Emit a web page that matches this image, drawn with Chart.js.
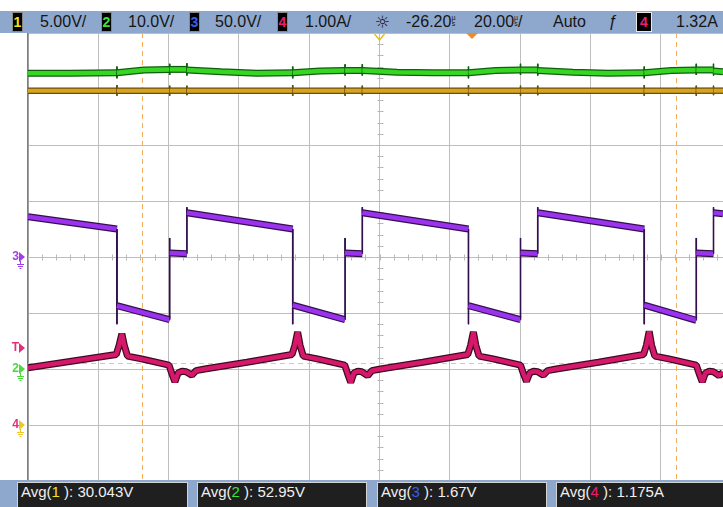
<!DOCTYPE html>
<html>
<head>
<meta charset="utf-8">
<script src="https://cdn.jsdelivr.net/npm/chart.js@4"></script>
<style>
  body { margin: 0; background: #fff; }
  #wrap { position: relative; width: 723px; height: 507px; overflow: hidden; font-family: "Liberation Sans", Arial, sans-serif; }
  #scope { position: absolute; left: 0; top: 0; }
  .bar { position: absolute; left: 0; width: 723px; background: #8ea7cc; }
  #hdr { top: 11px; height: 22px; }
  #ftr { top: 480px; height: 27px; }
  #hdr > span { position: absolute; top: 0; line-height: 22px; font-size: 16px; color: #151515; white-space: nowrap; }
  #hdr > span.ch { top: 1px; height: 18px; line-height: 18px; width: 9px; text-align: center; background: #000; border: 1px solid #8a8a8a; font-size: 14px; font-weight: bold; }
  .us { display: inline-block; font-size: 7px; line-height: 6px; text-align: center; vertical-align: 1px; }
  .box { position: absolute; top: 2px; height: 27px; background: #1f1f1f; border: 1px solid #d4d4d4; color: #f0f0f0; font-size: 15px; line-height: 17px; padding-left: 3px; box-sizing: border-box; white-space: nowrap; }
</style>
</head>
<body>
<div id="wrap">
  <canvas id="scope" width="723" height="507"></canvas>

  <div id="hdr" class="bar">
    <span class="ch" style="left:12px;color:#f2e41c">1</span>
    <span style="left:40px">5.00V/</span>
    <span class="ch" style="left:101px;color:#3ee03a">2</span>
    <span style="left:128px">10.0V/</span>
    <span class="ch" style="left:189px;color:#3a5cf0">3</span>
    <span style="left:215px">50.0V/</span>
    <span class="ch" style="left:277px;color:#e8206e">4</span>
    <span style="left:305px">1.00A/</span>
    <span style="left:375px;font-family:'DejaVu Sans';font-size:17px">☼</span>
    <span style="left:406px">-26.20<span class="us">µ<br>s</span></span>
    <span style="left:474px">20.00<span class="us">µ<br>s</span>/</span>
    <span style="left:553px">Auto</span>
    <span style="left:608px;font-style:italic">ƒ</span>
    <span class="ch" style="left:636px;width:14px;border-color:#e8e8e8;color:#e8206e">4</span>
    <span style="left:676px">1.32A</span>
  </div>

  <div id="ftr" class="bar">
    <div class="box" style="left:17px;width:171px">Avg(<span style="color:#f2e41c">1</span> ): 30.043V</div>
    <div class="box" style="left:197px;width:170px">Avg(<span style="color:#3ee03a">2</span> ): 52.95V</div>
    <div class="box" style="left:377px;width:170px">Avg(<span style="color:#3a5cf0">3</span> ): 1.67V</div>
    <div class="box" style="left:556px;width:170px">Avg(<span style="color:#e8206e">4</span> ): 1.175A</div>
  </div>
</div>

<script>
// time in µs from the left edge of the screen, values in channel units
const timeSpan = 197.7;      // visible width: 9.9 divisions of 20 µs
const timePerDiv = 20;

// channel scale (units per division) and ground level (divisions from centre)
const ch1Scale = 5,  ch1Ground = -3;
const ch2Scale = 10, ch2Ground = -2;
const ch3Scale = 50, ch3Ground = 0;
const ch4Scale = 1,  ch4Ground = -3;

// ch1 (V) — flat input voltage with switching spikes
const ch1Trace = [
  [0, 29.85], [25.3, 29.85], [25.3, 30.35], [25.3, 29.4], [25.3, 29.85],
  [40.3, 29.85], [40.3, 30.3], [40.3, 29.4], [40.3, 29.85],
  [45.2, 29.85], [45.2, 30.3], [45.2, 29.45], [45.2, 29.85],
  [75.3, 29.85], [75.3, 30.35], [75.3, 29.4], [75.3, 29.85],
  [90.2, 29.85], [90.2, 30.3], [90.2, 29.4], [90.2, 29.85],
  [95.1, 29.85], [95.1, 30.3], [95.1, 29.45], [95.1, 29.85],
  [125.3, 29.85], [125.3, 30.35], [125.3, 29.4], [125.3, 29.85],
  [140.1, 29.85], [140.1, 30.3], [140.1, 29.4], [140.1, 29.85],
  [145.0, 29.85], [145.0, 30.3], [145.0, 29.45], [145.0, 29.85],
  [175.3, 29.85], [175.3, 30.35], [175.3, 29.4], [175.3, 29.85],
  [190.1, 29.85], [190.1, 30.3], [190.1, 29.4], [190.1, 29.85],
  [195.0, 29.85], [195.0, 30.3], [195.0, 29.45], [195.0, 29.85],
  [197.7, 29.85]
];

// ch2 (V) — output voltage with a small hump each period
const ch2Trace = [
  [0, 52.8], [12, 52.8],
  [25.3, 52.9], [25.3, 54.0], [25.3, 51.9], [25.3, 52.9],
  [33, 53.4], [40.3, 53.5], [40.3, 54.5], [40.3, 52.5], [40.3, 53.5],
  [45.2, 53.5], [45.2, 54.6], [45.2, 52.4], [45.2, 53.4],
  [55, 53.1], [65, 52.8],
  [75.3, 52.9], [75.3, 54.0], [75.3, 51.9], [75.3, 52.9],
  [83, 53.2], [90.2, 53.3], [90.2, 54.4], [90.2, 52.4], [90.2, 53.3],
  [95.1, 53.3], [95.1, 54.4], [95.1, 52.4], [95.1, 53.3],
  [105, 53.0], [115, 52.9],
  [125.3, 52.9], [125.3, 54.0], [125.3, 51.9], [125.3, 52.9],
  [133, 53.3], [140.1, 53.4], [140.1, 54.5], [140.1, 52.5], [140.1, 53.4],
  [145.0, 53.4], [145.0, 54.5], [145.0, 52.4], [145.0, 53.3],
  [155, 53.0], [165, 52.8],
  [175.3, 52.9], [175.3, 54.0], [175.3, 51.9], [175.3, 52.9],
  [183, 53.3], [190.1, 53.4], [190.1, 54.5], [190.1, 52.5], [190.1, 53.4],
  [195.0, 53.4], [195.0, 54.5], [195.0, 52.4], [195.0, 53.2],
  [197.7, 53.1]
];

// ch3 (V) — switch node, sloped tops with an intermediate step
const ch3Trace = [
  [0, 36], [25.3, 25], [25.3, -60], [25.3, -43.5], [40.3, -56], [40.3, 17], [40.3, 3.5],
  [45.2, 3], [45.2, 44.5], [45.2, 39.5], [75.3, 25], [75.3, -60], [75.3, -43], [90.2, -56],
  [90.2, 17], [90.2, 3.5], [95.1, 3], [95.1, 44.5], [95.1, 39.5], [125.3, 25], [125.3, -60],
  [125.3, -43.5], [140.1, -56], [140.1, 17], [140.1, 3.5], [145.0, 3], [145.0, 44.5],
  [145.0, 39.5], [175.3, 25], [175.3, -60], [175.3, -43], [190.1, -56.5], [190.1, 17],
  [190.1, 3.5], [195.0, 3], [195.0, 44.5], [195.0, 39.5], [197.7, 38.5]
];

// ch4 (A) — inductor current with spikes at the edges
const ch4Trace = [
  [0, 1.02],
  [25.1, 1.26], [25.9, 1.42], [26.7, 1.63], [27.4, 1.42], [28.3, 1.23], [32.3, 1.18], [40.1, 1.07],
  [40.9, 0.92], [41.8, 0.77], [42.7, 0.93], [43.8, 0.96], [45.0, 0.95], [46.6, 0.89], [47.8, 0.97],
  [50.3, 1.00], [62.3, 1.12],
  [75.1, 1.26], [75.9, 1.42], [76.7, 1.66], [77.4, 1.42], [78.3, 1.23], [82.3, 1.18], [90.1, 1.07],
  [90.9, 0.92], [91.8, 0.76], [92.7, 0.93], [93.8, 0.96], [95.0, 0.95], [96.6, 0.88], [97.8, 0.97],
  [100.3, 1.00], [112.3, 1.12],
  [125.1, 1.26], [125.9, 1.42], [126.7, 1.66], [127.4, 1.42], [128.3, 1.23], [132.3, 1.18], [140.1, 1.07],
  [140.9, 0.92], [141.8, 0.78], [142.7, 0.93], [143.8, 0.96], [145.0, 0.95], [146.6, 0.89], [147.8, 0.97],
  [150.3, 1.00], [162.3, 1.12],
  [175.1, 1.26], [175.9, 1.42], [176.7, 1.67], [177.4, 1.42], [178.3, 1.23], [182.3, 1.18], [190.1, 1.07],
  [190.9, 0.92], [191.8, 0.77], [192.7, 0.93], [193.8, 0.96], [195.0, 0.95], [196.6, 0.88], [197.7, 0.94]
];

// cursors and markers
const cursorTimes = [32.4, 184.4];
const cursorLevel = -1.89;      // divisions
const triggerTime = 126.3;
const delayTime = 100;
const triggerLevel = -1.68;     // divisions

function trace(points, perDiv, ground, core, edge, width, order) {
  const data = points.map(([t, v]) => ({ x: t, y: v / perDiv + ground }));
  const vertical = c => c.p0.parsed.x === c.p1.parsed.x;
  const common = { data, pointRadius: 0, tension: 0, fill: false, borderJoinStyle: 'bevel' };
  return [
    Object.assign({}, common, {
      borderColor: edge, borderWidth: width + 2.5, order: order + 1,
      segment: { borderWidth: c => vertical(c) ? 1.6 : undefined }
    }),
    Object.assign({}, common, {
      borderColor: core, borderWidth: width, order: order,
      segment: {
        borderWidth: c => vertical(c) ? 1 : undefined,
        borderColor: c => vertical(c) ? edge : undefined
      }
    })
  ];
}

function line(ctx, x1, y1, x2, y2) {
  ctx.beginPath(); ctx.moveTo(x1, y1); ctx.lineTo(x2, y2); ctx.stroke();
}

function marker(ctx, label, py, color, arrowColor, ground) {
  ctx.fillStyle = color;
  ctx.font = 'bold 12px "Liberation Sans"';
  ctx.textAlign = 'right';
  ctx.textBaseline = 'middle';
  ctx.fillText(label, 19, py);
  ctx.fillStyle = arrowColor;
  ctx.beginPath(); ctx.moveTo(19, py - 5); ctx.lineTo(25, py); ctx.lineTo(19, py + 5); ctx.closePath(); ctx.fill();
  if (ground) {
    ctx.strokeStyle = arrowColor; ctx.lineWidth = 1;
    line(ctx, 20.5, py + 4, 20.5, py + 7);
    line(ctx, 17, py + 7.5, 24, py + 7.5);
    line(ctx, 18, py + 9.5, 23, py + 9.5);
    line(ctx, 19.5, py + 11.5, 21.5, py + 11.5);
  }
}

const overlay = {
  id: 'overlay',
  beforeDatasetsDraw(chart) {
    const { ctx, scales: { x, y }, chartArea: a } = chart;
    ctx.save();
    // minor ticks on the centre axes
    ctx.strokeStyle = '#b8b8b8'; ctx.lineWidth = 1;
    const cy = Math.round(y.getPixelForValue(0)) + 0.5;
    for (let t = 0; t <= timeSpan; t += timePerDiv / 5) {
      const px = Math.round(x.getPixelForValue(t)) + 0.5;
      line(ctx, px, cy - 3, px, cy + 3);
    }
    const cx = Math.round(x.getPixelForValue(100)) + 0.5;
    for (let v = -4; v <= 4.001; v += 0.2) {
      const py = Math.round(y.getPixelForValue(v)) + 0.5;
      line(ctx, cx - 3, py, cx + 3, py);
    }
    // cursors
    ctx.setLineDash([5, 4]);
    ctx.strokeStyle = '#f2ad5c';
    cursorTimes.forEach(t => {
      const px = Math.round(x.getPixelForValue(t)) + 0.5;
      line(ctx, px, a.top, px, a.bottom);
    });
    ctx.strokeStyle = '#ecc48e';
    const hy = Math.round(y.getPixelForValue(cursorLevel)) + 0.5;
    line(ctx, a.left, hy, a.right, hy);
    ctx.restore();
  },
  afterDraw(chart) {
    const { ctx, scales: { x, y }, chartArea: a } = chart;
    ctx.save();
    // top markers
    const tx = x.getPixelForValue(triggerTime);
    ctx.fillStyle = '#f08a22';
    ctx.beginPath(); ctx.moveTo(tx - 6, a.top); ctx.lineTo(tx + 6, a.top); ctx.lineTo(tx, a.top + 6); ctx.closePath(); ctx.fill();
    const dx = x.getPixelForValue(delayTime);
    ctx.strokeStyle = '#e2c02a'; ctx.lineWidth = 1.5;
    ctx.beginPath(); ctx.moveTo(dx - 5, a.top + 1); ctx.lineTo(dx, a.top + 7); ctx.lineTo(dx + 5, a.top + 1); ctx.stroke();
    // left channel markers
    marker(ctx, '3', y.getPixelForValue(ch3Ground), '#a23ee6', '#a23ee6', true);
    marker(ctx, 'T', y.getPixelForValue(triggerLevel) - 3, '#e0307c', '#e0307c', false);
    marker(ctx, '2', y.getPixelForValue(ch2Ground), '#4cd840', '#4cd840', true);
    marker(ctx, '4', y.getPixelForValue(ch4Ground), '#e0307c', '#eec62a', true);
    ctx.restore();
  }
};

new Chart(document.getElementById('scope'), {
  type: 'line',
  data: {
    datasets: [
      ...trace(ch4Trace, ch4Scale, ch4Ground, '#d6186c', '#3e0a1e', 4.5, 1),
      ...trace(ch3Trace, ch3Scale, ch3Ground, '#9a32ee', '#33104e', 4.5, 3),
      ...trace(ch1Trace, ch1Scale, ch1Ground, '#d9a31e', '#6a4e0e', 4, 5),
      ...trace(ch2Trace, ch2Scale, ch2Ground, '#36d622', '#0e5e0e', 4.5, 7)
    ]
  },
  options: {
    responsive: false,
    animation: false,
    events: [],
    layout: { padding: { left: 28, top: 33, right: 0, bottom: 26 } },
    plugins: { legend: { display: false }, tooltip: { enabled: false } },
    scales: {
      x: {
        type: 'linear', min: 0, max: timeSpan,
        ticks: { display: false, stepSize: timePerDiv, includeBounds: false },
        grid: { color: '#bebebe', drawTicks: false },
        border: { display: false },
        afterFit: s => { s.height = 0; }
      },
      y: {
        type: 'linear', min: -4, max: 4,
        ticks: { display: false, stepSize: 1 },
        grid: { color: '#bebebe', drawTicks: false },
        border: { display: true, color: '#7e7e7e', width: 1.5 },
        afterFit: s => { s.width = 0; }
      }
    }
  },
  plugins: [overlay]
});
</script>
</body>
</html>
